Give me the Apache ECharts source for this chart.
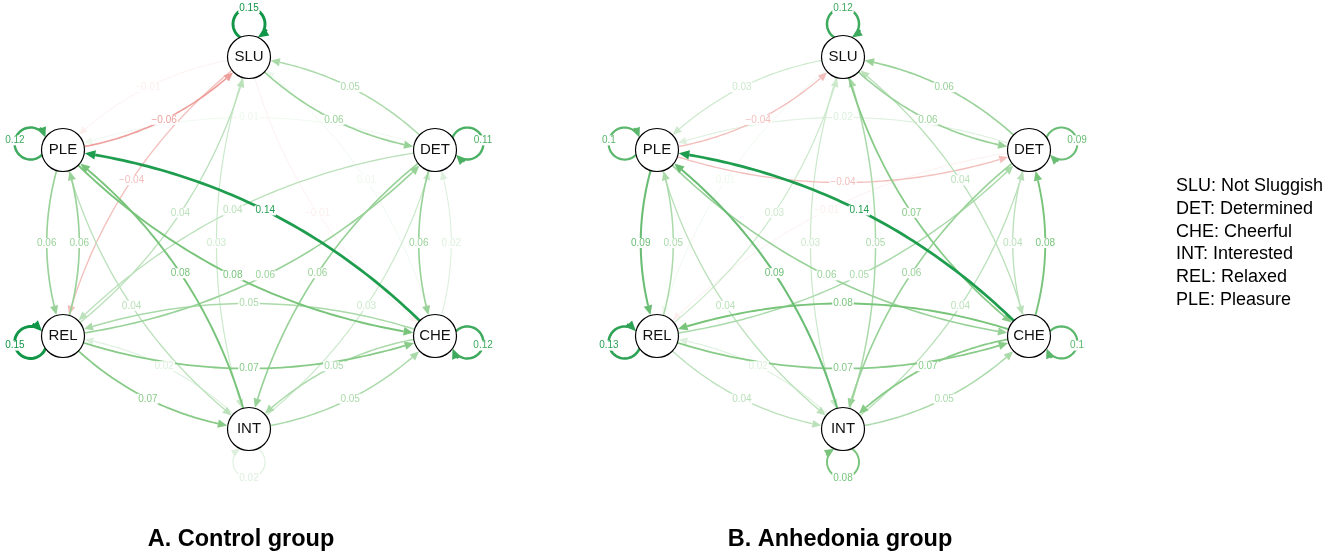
<!DOCTYPE html>
<html>
<head>
<meta charset="utf-8">
<script src="https://cdn.jsdelivr.net/npm/echarts@6/dist/echarts.min.js"></script>
<style>
html,body{margin:0;padding:0;background:#fff}
#main{width:1342px;height:556px}
</style>
</head>
<body>
<div id="main"></div>
<script>
//节点
var nodeNames = ['SLU', 'DET', 'CHE', 'INT', 'REL', 'PLE'];
var nodeX = [0, 1, 1, 0, -1, -1];
var nodeY = [1, 0.5, -0.5, -1, -0.5, 0.5];

var groupTitles = ['A. Control group', 'B. Anhedonia group'];
var legendLines = ['SLU: Not Sluggish', 'DET: Determined', 'CHE: Cheerful', 'INT: Interested', 'REL: Relaxed', 'PLE: Pleasure'];

//自环 (按 nodeNames 顺序)
var controlLoops = [0.15, 0.11, 0.12, 0.02, 0.15, 0.12];
var anhedoniaLoops = [0.12, 0.09, 0.1, 0.08, 0.13, 0.1];

//边 [from, to, weight]
var controlEdges = [
	['SLU', 'PLE', -0.01], ['PLE', 'SLU', -0.06], ['DET', 'SLU', 0.05], ['SLU', 'DET', 0.06],
	['DET', 'PLE', 0.01], ['SLU', 'REL', -0.04], ['REL', 'SLU', 0.04], ['SLU', 'CHE', -0.01],
	['CHE', 'SLU', 0.01], ['SLU', 'INT', 0.03], ['DET', 'REL', 0.04], ['REL', 'DET', 0.06],
	['CHE', 'PLE', 0.14], ['PLE', 'CHE', 0.08], ['PLE', 'REL', 0.06], ['REL', 'PLE', 0.06],
	['DET', 'CHE', 0.06], ['CHE', 'DET', 0.02], ['INT', 'PLE', 0.08], ['PLE', 'INT', 0.04],
	['DET', 'INT', 0.06], ['INT', 'DET', 0.03], ['CHE', 'REL', 0.05], ['REL', 'CHE', 0.07],
	['INT', 'REL', 0.02], ['REL', 'INT', 0.07], ['CHE', 'INT', 0.05], ['INT', 'CHE', 0.05]
];
var anhedoniaEdges = [
	['SLU', 'PLE', 0.03], ['PLE', 'SLU', -0.04], ['DET', 'SLU', 0.06], ['SLU', 'DET', 0.06],
	['DET', 'PLE', 0.02], ['PLE', 'DET', -0.04], ['SLU', 'REL', 0.01], ['REL', 'SLU', 0.03],
	['DET', 'REL', -0.01], ['REL', 'DET', 0.05], ['CHE', 'PLE', 0.14], ['PLE', 'CHE', 0.06],
	['SLU', 'INT', 0.03], ['INT', 'SLU', 0.05], ['SLU', 'CHE', 0.07], ['CHE', 'SLU', 0.04],
	['PLE', 'REL', 0.09], ['REL', 'PLE', 0.05], ['DET', 'CHE', 0.04], ['CHE', 'DET', 0.08],
	['INT', 'PLE', 0.09], ['PLE', 'INT', 0.04], ['DET', 'INT', 0.06], ['INT', 'DET', 0.04],
	['CHE', 'REL', 0.08], ['REL', 'CHE', 0.07], ['INT', 'REL', 0.02], ['REL', 'INT', 0.04],
	['CHE', 'INT', 0.07], ['INT', 'CHE', 0.05]
];

var R = 21.5;	//节点半径(px)
var FONT = '"Liberation Sans", Arial, Helvetica, sans-serif';

//颜色随权重变淡
function edgeColor(w) {
	var t = Math.min(1, Math.abs(w) / 0.15);
	var stops = w > 0 ? [[255, 255, 255], [128, 199, 127], [16, 150, 70]] : [[255, 255, 255], [232, 135, 130], [200, 30, 30]];
	var a, b, k;
	if (t < 0.5) { a = stops[0]; b = stops[1]; k = t / 0.5; }
	else { a = stops[1]; b = stops[2]; k = (t - 0.5) / 0.5; }
	var c = [0, 1, 2].map(function (i) { return Math.round(a[i] + (b[i] - a[i]) * k); });
	return 'rgb(' + c.join(',') + ')';
}
function edgeWidth(w) { return 0.8 + Math.abs(w) / 0.15 * 2.1; }
function fmt(w) { return String(w).replace('-', '\u2212'); }

function bez(p0, c, p2, t) {
	var u = 1 - t;
	return [u * u * p0[0] + 2 * u * t * c[0] + t * t * p2[0], u * u * p0[1] + 2 * u * t * c[1] + t * t * p2[1]];
}
function dist(a, b) { return Math.hypot(a[0] - b[0], a[1] - b[1]); }
//二分找曲线与圆的交点参数
function solveT(p0, c, p2, center, r, fromEnd) {
	var lo = fromEnd ? 0.5 : 0, hi = fromEnd ? 1 : 0.5;
	for (var i = 0; i < 30; i++) {
		var m = (lo + hi) / 2;
		var d = dist(bez(p0, c, p2, m), center);
		if (fromEnd) { if (d > r) lo = m; else hi = m; }
		else { if (d < r) lo = m; else hi = m; }
	}
	return (lo + hi) / 2;
}
function arrowHead(tip, tx, ty, lw, col) {
	var alen = 7.5 + lw * 1.1, ahw = 3.2 + lw * 0.55;
	var base = [tip[0] - tx * alen, tip[1] - ty * alen];
	return {
		base: base,
		el: {
			type: 'polygon',
			shape: { points: [tip, [base[0] - ty * ahw, base[1] + tx * ahw], [base[0] + ty * ahw, base[1] - tx * ahw]] },
			style: { fill: col }
		}
	};
}
function labelEl(text, p, col) {
	return {
		type: 'text', z2: 50,
		style: {
			text: text, x: p[0], y: p[1], align: 'center', verticalAlign: 'middle',
			fill: col, font: '10px ' + FONT, backgroundColor: '#fff', padding: [0, 1]
		}
	};
}

function renderEdge(params, api) {
	var p0 = api.coord([api.value(0), api.value(1)]);
	var p2 = api.coord([api.value(2), api.value(3)]);
	var w = api.value(4);
	var dx = p2[0] - p0[0], dy = p2[1] - p0[1];
	var k = 0.175;
	//往前进方向的右侧弯
	var c = [(p0[0] + p2[0]) / 2 - dy * k, (p0[1] + p2[1]) / 2 + dx * k];
	var col = edgeColor(w), lw = edgeWidth(w);
	var t0 = solveT(p0, c, p2, p0, R, false);
	var t1 = solveT(p0, c, p2, p2, R + 0.5, true);
	var tip = bez(p0, c, p2, t1);
	var pb = bez(p0, c, p2, t1 - 0.01);
	var tx = tip[0] - pb[0], ty = tip[1] - pb[1], tl = Math.hypot(tx, ty);
	tx /= tl; ty /= tl;
	var ah = arrowHead(tip, tx, ty, lw, col);
	var pts = [];
	for (var i = 0; i <= 60; i++) {
		var p = bez(p0, c, p2, t0 + (t1 - t0) * i / 60);
		if (dist(p, tip) < dist(ah.base, tip)) break;
		pts.push(p);
	}
	pts.push(ah.base);
	return {
		type: 'group',
		children: [
			{ type: 'polyline', shape: { points: pts }, style: { stroke: col, lineWidth: lw, fill: null } },
			ah.el,
			labelEl(fmt(w), bez(p0, c, p2, 0.5), col)
		]
	};
}

function renderLoop(params, api) {
	var nx = api.value(0), ny = api.value(1), w = api.value(2);
	var cp = api.coord([nx, ny]);
	var ux = nx, uy = -ny * 0.4, ul = Math.hypot(ux, uy);
	ux /= ul; uy /= ul;
	var r = 16, d = R + 11.5;
	var L = [cp[0] + ux * d, cp[1] + uy * d];
	var thc = Math.atan2(-uy, -ux);
	var phi = Math.acos((d * d + r * r - R * R) / (2 * d * r));
	var a0 = thc + phi, a1 = thc + 2 * Math.PI - phi;
	var col = edgeColor(w), lw = edgeWidth(w);
	var tip = [L[0] + r * Math.cos(a1), L[1] + r * Math.sin(a1)];
	var tx = -Math.sin(a1), ty = Math.cos(a1);
	var ah = arrowHead(tip, tx, ty, lw, col);
	var aEnd = a1 - dist(ah.base, tip) / r;
	var pts = [];
	for (var i = 0; i <= 40; i++) {
		var a = a0 + (aEnd - a0) * i / 40;
		pts.push([L[0] + r * Math.cos(a), L[1] + r * Math.sin(a)]);
	}
	pts.push(ah.base);
	return {
		type: 'group',
		children: [
			{ type: 'polyline', shape: { points: pts }, style: { stroke: col, lineWidth: lw, fill: null } },
			ah.el,
			labelEl(fmt(w), [L[0] + ux * r, L[1] + uy * r], col)
		]
	};
}

function edgeData(edges) {
	var list = edges.slice().sort(function (a, b) { return Math.abs(a[2]) - Math.abs(b[2]); });
	return list.map(function (e) {
		var i = nodeNames.indexOf(e[0]), j = nodeNames.indexOf(e[1]);
		return [nodeX[i], nodeY[i], nodeX[j], nodeY[j], e[2]];
	});
}
function loopData(loops) {
	return loops.map(function (w, i) { return [nodeX[i], nodeY[i], w]; });
}
function nodeData() {
	return nodeNames.map(function (n, i) { return { name: n, value: [nodeX[i], nodeY[i]] }; });
}

function groupSeries(idx, edges, loops) {
	return [
		{ type: 'custom', xAxisIndex: idx, yAxisIndex: idx, z: 2, clip: false, renderItem: renderEdge, data: edgeData(edges), silent: true },
		{ type: 'custom', xAxisIndex: idx, yAxisIndex: idx, z: 3, clip: false, renderItem: renderLoop, data: loopData(loops), silent: true },
		{
			type: 'scatter', xAxisIndex: idx, yAxisIndex: idx, z: 5, symbolSize: R * 2, data: nodeData(), silent: true,
			itemStyle: { color: '#fff', borderColor: '#000', borderWidth: 1.2, opacity: 1 },
			label: { show: true, position: 'inside', formatter: '{b}', color: '#111', fontSize: 15, fontFamily: FONT }
		}
	];
}

var chart = echarts.init(document.getElementById('main'));
var axisOpt = { type: 'value', min: -1, max: 1, show: false };
var option = {
	animation: false,
	grid: [
		{ left: 63, top: 57, width: 372, height: 372 },
		{ left: 657, top: 57, width: 372, height: 372 }
	],
	xAxis: [Object.assign({ gridIndex: 0 }, axisOpt), Object.assign({ gridIndex: 1 }, axisOpt)],
	yAxis: [Object.assign({ gridIndex: 0 }, axisOpt), Object.assign({ gridIndex: 1 }, axisOpt)],
	graphic: [
		{ type: 'text', x: 241, y: 540, style: { text: groupTitles[0], align: 'center', verticalAlign: 'middle', font: 'bold 23.5px ' + FONT, fill: '#000' } },
		{ type: 'text', x: 840, y: 540, style: { text: groupTitles[1], align: 'center', verticalAlign: 'middle', font: 'bold 23.5px ' + FONT, fill: '#000' } }
	].concat(legendLines.map(function (t, i) {
		return { type: 'text', x: 1176, y: 186 + i * 22.8, style: { text: t, align: 'left', verticalAlign: 'middle', font: '18px ' + FONT, fill: '#000' } };
	})),
	series: groupSeries(0, controlEdges, controlLoops).concat(groupSeries(1, anhedoniaEdges, anhedoniaLoops))
};
chart.setOption(option);
</script>
</body>
</html>
